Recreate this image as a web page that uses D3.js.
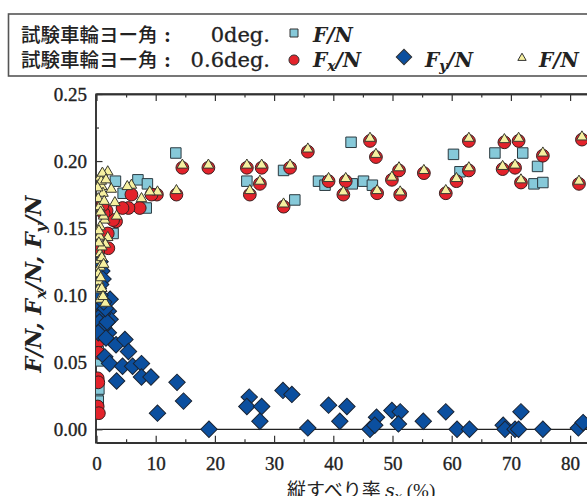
<!DOCTYPE html>
<html lang="ja">
<head>
<meta charset="UTF-8" />
<title>縦すべり率と力の比</title>
<script src="https://d3js.org/d3.v7.min.js"></script>
<style>
    body { margin: 0; background: #fff; }
    svg { display: block; }
    .tick text { font-family: "Liberation Serif", serif; font-size: 19px; fill: #222; stroke: #222; stroke-width: 0.35px; }
    .axis path, .axis line { stroke: #333; }
</style>
</head>
<body>
<div id="chart"></div>
<script>
    // values: [slip ratio %, force ratio]
    const yaw0F = [
        [13.4, 0.206], [25.4, 0.185], [31.6, 0.193], [33.5, 0.171], [37.5, 0.185], [38.6, 0.182],
        [43.0, 0.214], [43.2, 0.183], [45.1, 0.185], [46.6, 0.182], [60.3, 0.205], [61.4, 0.192],
        [67.3, 0.206], [72.0, 0.206], [74.5, 0.196], [73.9, 0.183], [75.4, 0.184],
        [3.2, 0.185], [7.0, 0.186], [8.6, 0.183], [8.4, 0.165], [4.5, 0.176], [2.8, 0.146],
        [0.3, 0.058], [0.3, 0.051], [0.2, 0.026], [0.3, 0.021], [0.4, 0.030]
    ];
    const yaw06Fx = [
        [14.5, 0.195], [18.9, 0.195], [25.4, 0.195], [27.9, 0.195], [27.6, 0.183], [25.9, 0.175],
        [32.7, 0.195], [31.6, 0.166], [35.7, 0.207], [39.2, 0.185], [42.1, 0.185], [41.7, 0.175],
        [46.2, 0.215], [47.2, 0.203], [47.4, 0.176], [49.9, 0.186], [51.1, 0.193], [51.3, 0.175],
        [55.3, 0.191], [59.0, 0.176], [60.8, 0.185], [62.9, 0.215], [62.9, 0.193], [68.6, 0.194],
        [68.9, 0.214], [70.7, 0.195], [71.3, 0.215], [71.7, 0.184], [75.4, 0.204], [81.5, 0.183],
        [82.0, 0.216], [13.5, 0.175], [10.2, 0.175],
        [9.3, 0.175], [5.9, 0.175], [7.3, 0.165], [5.4, 0.165], [4.4, 0.165], [3.3, 0.155],
        [2.8, 0.156], [1.9, 0.146], [2.0, 0.135], [1.7, 0.163], [1.2, 0.161], [1.0, 0.167],
        [0.3, 0.133], [0.4, 0.066], [0.3, 0.057], [0.2, 0.038], [0.3, 0.035], [0.2, 0.017], [0.4, 0.012]
    ];
    const yaw06Fy = [
        [2.3, 0.097], [2.0, 0.088], [2.3, 0.082], [2.0, 0.072], [3.3, 0.063], [4.8, 0.067],
        [5.4, 0.058], [1.4, 0.054], [2.2, 0.049], [4.4, 0.047], [6.1, 0.047], [7.6, 0.049],
        [7.6, 0.039], [9.2, 0.039], [3.4, 0.036], [13.6, 0.035], [14.7, 0.021], [10.3, 0.012],
        [19.0, 0.000], [25.8, 0.024], [25.4, 0.017], [27.9, 0.017], [27.6, 0.006], [31.5, 0.029],
        [33.0, 0.026], [35.7, 0.001], [39.2, 0.018], [41.1, 0.006], [42.3, 0.017], [46.2, 0.000],
        [47.3, 0.009], [47.0, 0.003], [49.9, 0.014], [51.3, 0.013], [51.0, 0.004], [55.2, 0.006],
        [59.0, 0.013], [60.9, 0.000], [63.0, 0.000], [68.7, 0.003], [69.0, 0.000], [70.7, 0.000],
        [71.3, 0.000], [71.7, 0.013], [75.4, 0.000], [81.4, 0.001], [82.2, 0.005],
        [0.3, 0.105], [0.6, 0.100], [0.8, 0.092], [1.0, 0.086], [0.5, 0.080], [1.2, 0.076],
        [0.3, 0.072], [1.6, 0.068], [1.8, 0.080], [0.6, 0.125], [0.9, 0.118], [1.1, 0.112],
        [0.7, 0.108], [1.5, 0.090], [1.2, 0.095]
    ];
    const yaw06F = [
        [14.5, 0.197], [18.9, 0.197], [25.4, 0.197], [27.9, 0.197], [27.6, 0.185], [25.9, 0.178],
        [32.7, 0.197], [31.6, 0.168], [35.7, 0.209], [39.2, 0.187], [42.1, 0.187], [41.7, 0.177],
        [46.2, 0.217], [47.2, 0.205], [47.4, 0.178], [49.9, 0.188], [51.1, 0.195], [51.3, 0.177],
        [55.3, 0.193], [59.0, 0.178], [60.8, 0.187], [62.9, 0.217], [62.9, 0.195], [68.6, 0.196],
        [68.9, 0.216], [70.7, 0.197], [71.3, 0.217], [71.7, 0.186], [75.4, 0.206], [81.5, 0.185],
        [82.0, 0.218], [13.5, 0.178], [10.3, 0.177],
        [9.0, 0.177], [5.9, 0.182], [5.2, 0.181], [7.6, 0.172], [3.1, 0.169], [2.5, 0.179],
        [1.9, 0.192], [1.4, 0.156], [1.9, 0.143], [3.4, 0.159], [0.6, 0.188], [0.9, 0.181],
        [0.5, 0.166], [1.2, 0.159], [0.6, 0.151], [0.5, 0.144], [1.5, 0.138], [0.6, 0.131],
        [0.5, 0.126], [0.6, 0.121], [0.3, 0.116], [0.4, 0.110], [0.3, 0.104], [0.6, 0.097],
        [1.5, 0.094], [0.8, 0.185], [1.1, 0.176], [0.3, 0.172], [0.7, 0.162], [0.4, 0.148],
        [0.9, 0.136], [1.0, 0.191], [1.6, 0.186], [0.2, 0.180], [1.3, 0.170], [0.9, 0.128],
        [0.4, 0.139], [1.2, 0.123], [0.7, 0.113], [0.9, 0.105], [1.1, 0.099]
    ];

    const xMajor = [0, 10, 20, 30, 40, 50, 60, 70, 80];
    const xMinor = [5, 15, 25, 35, 45, 55, 65, 75, 85];
    const yMajor = [0, 0.05, 0.10, 0.15, 0.20, 0.25];
    const yMinor = [0.025, 0.075, 0.125, 0.175, 0.225];

    const width = 587, height = 496;
    const svg = d3.select("#chart").append("svg")
        .attr("width", width)
        .attr("height", height);

    const plotLeft = 95.5, plotTop = 94, plotBottom = 442.7, plotRight = 700;

    const x = d3.scaleLinear().domain([0, 100]).range([96.5, 688.5]);
    const y = d3.scaleLinear().domain([-0.01, 0.25]).range([plotBottom, plotTop]);

    // zero line
    svg.append("line")
        .attr("x1", plotLeft).attr("x2", plotRight)
        .attr("y1", y(0)).attr("y2", y(0))
        .attr("stroke", "#222").attr("stroke-width", 1.2);

    // axes (ticks pointing inward)
    const gx = svg.append("g").attr("class", "axis")
        .attr("transform", `translate(0,${plotBottom})`)
        .call(d3.axisBottom(x).tickValues(xMajor).tickSize(-7).tickSizeOuter(0).tickPadding(14).tickFormat(d3.format("d")));
    svg.append("g").attr("class", "axis")
        .attr("transform", `translate(0,${plotBottom})`)
        .call(d3.axisBottom(x).tickValues(xMinor).tickSize(-3.5).tickSizeOuter(0).tickFormat(""));
    svg.append("g").attr("class", "axis")
        .attr("transform", `translate(0,${plotTop})`)
        .call(d3.axisTop(x).tickValues(xMajor).tickSize(-7).tickSizeOuter(0).tickFormat(""));
    svg.append("g").attr("class", "axis")
        .attr("transform", `translate(0,${plotTop})`)
        .call(d3.axisTop(x).tickValues(xMinor).tickSize(-3.5).tickSizeOuter(0).tickFormat(""));
    svg.append("g").attr("class", "axis")
        .attr("transform", `translate(${plotLeft},0)`)
        .call(d3.axisLeft(y).tickValues(yMajor).tickSize(-7).tickSizeOuter(0).tickPadding(8.5).tickFormat(d3.format(".2f")));
    svg.append("g").attr("class", "axis")
        .attr("transform", `translate(${plotLeft},0)`)
        .call(d3.axisLeft(y).tickValues(yMinor).tickSize(-3.5).tickSizeOuter(0).tickFormat(""));

    svg.selectAll(".axis .domain").attr("stroke-width", 1.6);
    svg.selectAll(".axis .tick line").attr("stroke-width", 1.2);
    gx.selectAll(".tick text").attr("dy", "0.71em");

    // extend frame lines across
    svg.append("line").attr("x1", plotLeft).attr("x2", plotRight).attr("y1", plotTop).attr("y2", plotTop)
        .attr("stroke", "#333").attr("stroke-width", 1.6);
    svg.append("line").attr("x1", plotLeft).attr("x2", plotRight).attr("y1", plotBottom).attr("y2", plotBottom)
        .attr("stroke", "#333").attr("stroke-width", 1.6);

    // markers
    svg.append("clipPath").attr("id", "plot-clip")
        .append("rect").attr("x", plotLeft + 0.5).attr("y", plotTop)
        .attr("width", plotRight - plotLeft).attr("height", plotBottom - plotTop);

    const plot = svg.append("g").attr("clip-path", "url(#plot-clip)");

    const square = d3.symbol().type(d3.symbolSquare).size(110);
    const circle = d3.symbol().type(d3.symbolCircle).size(128);
    const diamond = d3.symbol().type(d3.symbolSquare).size(135);
    const triangle = d3.symbol().type(d3.symbolTriangle).size(48);

    function drawSeries(data, sym, fill, stroke, rot) {
        plot.append("g").selectAll("path").data(data).join("path")
            .attr("d", sym)
            .attr("transform", d => `translate(${x(d[0])},${y(d[1])})` + (rot ? " rotate(45)" : ""))
            .attr("fill", fill)
            .attr("stroke", stroke)
            .attr("stroke-width", 1);
    }

    drawSeries(yaw0F, square, "#86c9d9", "#2b3a40", false);
    drawSeries(yaw06Fx, circle, "#e3232b", "#3a2020", false);
    drawSeries(yaw06Fy, diamond, "#0b4f9f", "#1a2433", true);
    drawSeries(yaw06F, triangle, "#f6f0a0", "#3a3a30", false);

    // axis titles
    const yTitle = svg.append("text")
        .attr("transform", "translate(41,284) rotate(-90)")
        .attr("text-anchor", "middle")
        .attr("font-family", "DejaVu Serif, serif")
        .attr("font-style", "italic")
        .attr("font-weight", "bold")
        .attr("font-size", 22)
        .attr("fill", "#222");
    yTitle.append("tspan").text("F/N, F");
    yTitle.append("tspan").attr("font-size", 15).attr("dy", 5).text("x");
    yTitle.append("tspan").attr("dy", -5).text("/N, F");
    yTitle.append("tspan").attr("font-size", 15).attr("dy", 5).text("y");
    yTitle.append("tspan").attr("dy", -5).text("/N");

    const xTitle = svg.append("text")
        .attr("x", 287).attr("y", 497)
        .attr("font-size", 19)
        .attr("fill", "#222");
    xTitle.append("tspan").attr("font-family", "Noto Sans CJK JP").text("縦すべり率 ");
    xTitle.append("tspan").attr("font-family", "DejaVu Serif, serif").attr("font-style", "italic").text("s");
    xTitle.append("tspan").attr("font-family", "DejaVu Serif, serif").attr("font-style", "italic")
        .attr("font-size", 13).attr("dy", 4).text("x");
    xTitle.append("tspan").attr("font-family", "Liberation Serif, serif").attr("dy", -4).text(" (%)");

    // legend
    const legend = svg.append("g");
    legend.append("rect")
        .attr("x", 8.5).attr("y", 14).attr("width", 640).attr("height", 62)
        .attr("fill", "#fff").attr("stroke", "#555").attr("stroke-width", 1.6);

    const rows = [
        { base: 42, deg: "0deg." },
        { base: 67, deg: "0.6deg." }
    ];
    rows.forEach(r => {
        legend.append("text").attr("x", 21).attr("y", r.base)
            .attr("font-family", "Noto Sans CJK JP").attr("font-size", 19.5)
            .attr("font-weight", 500).attr("fill", "#222")
            .text("試験車輪ヨー角");
        legend.append("text").attr("x", 164).attr("y", r.base)
            .attr("font-family", "Liberation Serif, serif").attr("font-size", 21)
            .attr("font-weight", "bold").attr("fill", "#222")
            .text(":");
        legend.append("text").attr("x", 270).attr("y", r.base).attr("text-anchor", "end")
            .attr("font-family", "DejaVu Serif, serif").attr("font-size", 21).attr("fill", "#222")
            .attr("stroke", "#222").attr("stroke-width", 0.3)
            .text(r.deg);
    });

    const legendItems = [
        { cx: 294, cy: 33, sym: d3.symbol().type(d3.symbolSquare).size(64), fill: "#86c9d9", rot: false, tx: 313, ty: 42, main: "F", sub: "" },
        { cx: 294, cy: 60, sym: d3.symbol().type(d3.symbolCircle).size(80), fill: "#e3232b", rot: false, tx: 313, ty: 67, main: "F", sub: "x" },
        { cx: 404, cy: 57, sym: d3.symbol().type(d3.symbolSquare).size(120), fill: "#0b4f9f", rot: true, tx: 425, ty: 67, main: "F", sub: "y" },
        { cx: 522, cy: 58, sym: d3.symbol().type(d3.symbolTriangle).size(30), fill: "#f6f0a0", rot: false, tx: 539, ty: 67, main: "F", sub: "" }
    ];
    legendItems.forEach(it => {
        legend.append("path").attr("d", it.sym)
            .attr("transform", `translate(${it.cx},${it.cy})` + (it.rot ? " rotate(45)" : ""))
            .attr("fill", it.fill).attr("stroke", "#333").attr("stroke-width", 1);
        const t = legend.append("text").attr("x", it.tx).attr("y", it.ty)
            .attr("font-family", "DejaVu Serif, serif").attr("font-style", "italic")
            .attr("font-weight", "bold")
            .attr("font-size", 20).attr("fill", "#222");
        t.append("tspan").text(it.main);
        if (it.sub) {
            t.append("tspan").attr("font-size", 14).attr("dy", 4).text(it.sub);
            t.append("tspan").attr("dy", -4).text("/N");
        } else {
            t.append("tspan").text("/N");
        }
    });
</script>
</body>
</html>
